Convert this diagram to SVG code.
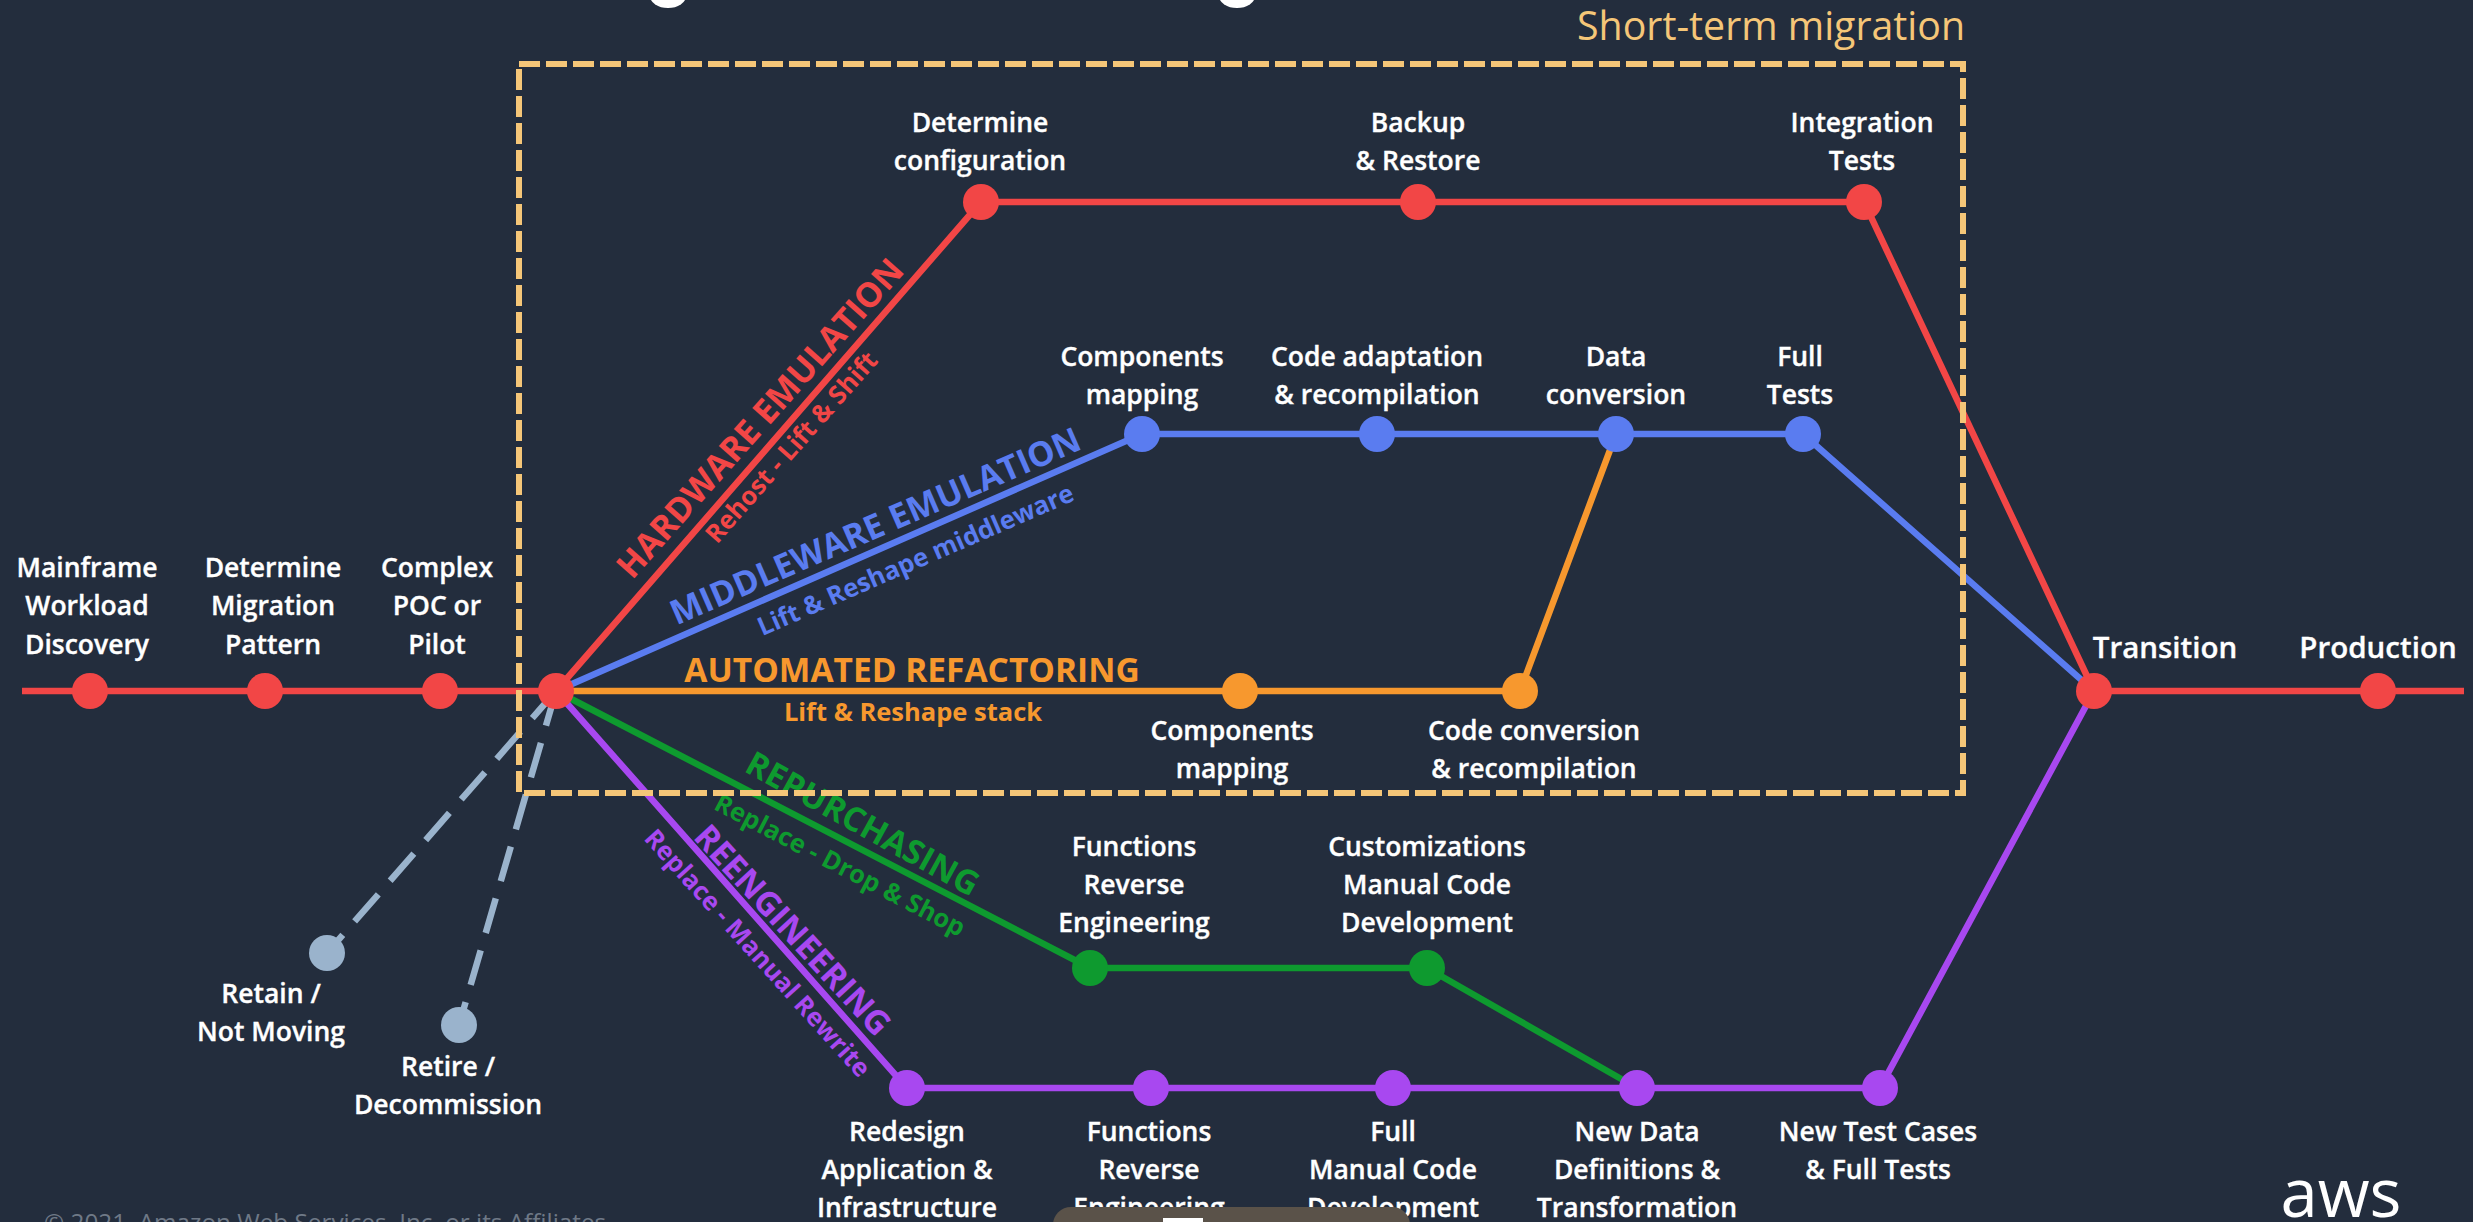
<svg xmlns="http://www.w3.org/2000/svg" width="2473" height="1222" viewBox="0 0 2473 1222">
<style>
text{font-family:"Open Sans","Noto Sans",sans-serif;font-weight:600;}
.l{fill:#fff;font-size:26.5px;text-anchor:middle;stroke:#fff;stroke-width:.35px;}
.big{font-size:29.5px;}
.c{fill:none;stroke-width:6.5;stroke-linejoin:round;}
.r{stroke:#f24646;}.b{stroke:#5a7cf0;}.o{stroke:#f7982e;}.g{stroke:#0e9a2f;}.p{stroke:#a848f0;}
.d{fill:none;stroke:#9ab3cc;stroke-width:6.5;stroke-dasharray:36 18;}
.n{r:18px;}
.nr{fill:#f24646;}.nb{fill:#5a7cf0;}.no{fill:#f7982e;}.ng{fill:#0e9a2f;}.np{fill:#a848f0;}.ns{fill:#9ab3cc;}
.h{font-size:33.5px;text-anchor:middle;font-weight:700;}
.s{font-size:25.5px;text-anchor:middle;font-weight:700;}
</style>
<rect width="2473" height="1222" fill="#232d3d"/>
<g id="title-remnants" fill="#fff">
<ellipse cx="668" cy="-4" rx="18" ry="12"/>
<ellipse cx="1237" cy="-4" rx="18" ry="12"/>
</g>
<g id="connectors">
<path class="c r" d="M22 691H556M2094 691H2464"/>
<path class="c g" d="M556 691L1090 968H1427L1637 1088"/>
<path class="c p" d="M556 691L907 1088H1880L2094 691"/>
<path class="c o" d="M556 691H1520L1616 434"/>
<path class="c b" d="M556 691L1142 434H1803L2094 691"/>
<path class="c r" d="M556 691L981 202H1864L2094 691"/>
<path class="d" d="M556 691L327 953"/>
<path class="d" d="M556 691L459 1025"/>
</g>
<g id="labels">
<text class="h" fill="#f24646" transform="translate(769 426) rotate(-48.5)" style="font-size:34.3px">HARDWARE EMULATION</text>
<text class="s" fill="#f24646" transform="translate(798 453) rotate(-48.5)">Rehost - Lift &amp; Shift</text>
<text class="h" fill="#5a7cf0" transform="translate(880 537) rotate(-23.5)" style="font-size:34px">MIDDLEWARE EMULATION</text>
<text class="s" fill="#5a7cf0" transform="translate(919 568) rotate(-23.5)">Lift &amp; Reshape middleware</text>
<text class="h" fill="#f7982e" x="912" y="682">AUTOMATED REFACTORING</text>
<text class="s" fill="#f7982e" x="913" y="721">Lift &amp; Reshape stack</text>
<text class="h" fill="#0e9a2f" transform="translate(857 834) rotate(29)">REPURCHASING</text>
<text class="s" fill="#0e9a2f" transform="translate(836 873) rotate(27.5)">Replace - Drop &amp; Shop</text>
<text class="h" fill="#a848f0" transform="translate(784 938) rotate(47.5)">REENGINEERING</text>
<text class="s" fill="#a848f0" transform="translate(751 959) rotate(48)">Replace - Manual Rewrite</text>
</g>
<g id="region">
<rect x="519" y="64" width="1444" height="729" fill="none" stroke="#f5c678" stroke-width="6" stroke-dasharray="21 6"/>
<text x="1965" y="40" font-size="39.3" text-anchor="end" fill="#f5c678" style="font-weight:400">Short-term migration</text>
</g>
<g id="n-discovery"><circle class="n nr" cx="90" cy="691"/><text class="l" x="87" y="577">Mainframe</text><text class="l" x="87" y="615">Workload</text><text class="l" x="87" y="654">Discovery</text></g>
<g id="n-pattern"><circle class="n nr" cx="265" cy="691"/><text class="l" x="273" y="577">Determine</text><text class="l" x="273" y="615">Migration</text><text class="l" x="273" y="654">Pattern</text></g>
<g id="n-poc"><circle class="n nr" cx="440" cy="691"/><text class="l" x="437" y="577">Complex</text><text class="l" x="437" y="615">POC or</text><text class="l" x="437" y="654">Pilot</text></g>
<g id="n-start"><circle class="n nr" cx="556" cy="691"/></g>
<g id="n-config"><circle class="n nr" cx="981" cy="202"/><text class="l" x="980" y="132">Determine</text><text class="l" x="980" y="170">configuration</text></g>
<g id="n-backup"><circle class="n nr" cx="1418" cy="202"/><text class="l" x="1418" y="132">Backup</text><text class="l" x="1418" y="170">&amp; Restore</text></g>
<g id="n-integration"><circle class="n nr" cx="1864" cy="202"/><text class="l" x="1862" y="132">Integration</text><text class="l" x="1862" y="170">Tests</text></g>
<g id="n-comp-map"><circle class="n nb" cx="1142" cy="434"/><text class="l" x="1142" y="366">Components</text><text class="l" x="1142" y="404">mapping</text></g>
<g id="n-adapt"><circle class="n nb" cx="1377" cy="434"/><text class="l" x="1377" y="366">Code adaptation</text><text class="l" x="1377" y="404">&amp; recompilation</text></g>
<g id="n-data"><circle class="n nb" cx="1616" cy="434"/><text class="l" x="1616" y="366">Data</text><text class="l" x="1616" y="404">conversion</text></g>
<g id="n-full"><circle class="n nb" cx="1803" cy="434"/><text class="l" x="1800" y="366">Full</text><text class="l" x="1800" y="404">Tests</text></g>
<g id="n-comp-map2"><circle class="n no" cx="1240" cy="691"/><text class="l" x="1232" y="740">Components</text><text class="l" x="1232" y="778">mapping</text></g>
<g id="n-conv"><circle class="n no" cx="1520" cy="691"/><text class="l" x="1534" y="740">Code conversion</text><text class="l" x="1534" y="778">&amp; recompilation</text></g>
<g id="n-func1"><circle class="n ng" cx="1090" cy="968"/><text class="l" x="1134" y="856">Functions</text><text class="l" x="1134" y="894">Reverse</text><text class="l" x="1134" y="932">Engineering</text></g>
<g id="n-custom"><circle class="n ng" cx="1427" cy="968"/><text class="l" x="1427" y="856">Customizations</text><text class="l" x="1427" y="894">Manual Code</text><text class="l" x="1427" y="932">Development</text></g>
<g id="n-redesign"><circle class="n np" cx="907" cy="1088"/><text class="l" x="907" y="1141">Redesign</text><text class="l" x="907" y="1179">Application &amp;</text><text class="l" x="907" y="1217">Infrastructure</text></g>
<g id="n-func2"><circle class="n np" cx="1151" cy="1088"/><text class="l" x="1149" y="1141">Functions</text><text class="l" x="1149" y="1179">Reverse</text><text class="l" x="1149" y="1217">Engineering</text></g>
<g id="n-manual"><circle class="n np" cx="1393" cy="1088"/><text class="l" x="1393" y="1141">Full</text><text class="l" x="1393" y="1179">Manual Code</text><text class="l" x="1393" y="1217">Development</text></g>
<g id="n-newdata"><circle class="n np" cx="1637" cy="1088"/><text class="l" x="1637" y="1141">New Data</text><text class="l" x="1637" y="1179">Definitions &amp;</text><text class="l" x="1637" y="1217">Transformation</text></g>
<g id="n-newtest"><circle class="n np" cx="1880" cy="1088"/><text class="l" x="1878" y="1141">New Test Cases</text><text class="l" x="1878" y="1179">&amp; Full Tests</text></g>
<g id="n-transition"><circle class="n nr" cx="2094" cy="691"/><text class="l big" x="2165" y="658">Transition</text></g>
<g id="n-production"><circle class="n nr" cx="2378" cy="691"/><text class="l big" x="2378" y="658">Production</text></g>
<g id="n-retain"><circle class="n ns" cx="327" cy="953"/><text class="l" x="271" y="1003">Retain /</text><text class="l" x="271" y="1041">Not Moving</text></g>
<g id="n-retire"><circle class="n ns" cx="459" cy="1025"/><text class="l" x="448" y="1076">Retire /</text><text class="l" x="448" y="1114">Decommission</text></g>
<g id="footer">
<text x="44" y="1231" font-size="24.3" fill="#6f7987" style="font-weight:400">© 2021, Amazon Web Services, Inc. or its Affiliates.</text>
<rect x="1053" y="1207" width="357" height="40" rx="18" fill="#5a5249"/>
<rect x="1163" y="1218" width="40" height="5" fill="#fff"/>
<text x="2341" y="1217" font-size="67" text-anchor="middle" fill="#fff" style="font-weight:400">aws</text>
</g>
</svg>
